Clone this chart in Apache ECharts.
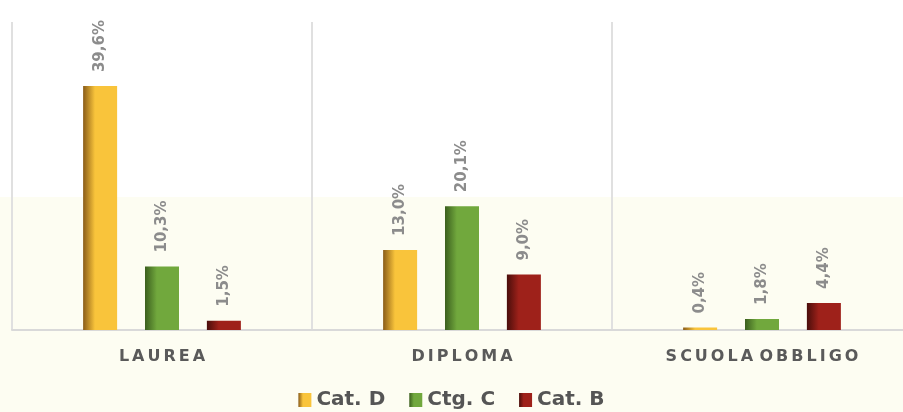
<!DOCTYPE html>
<html><head><meta charset="utf-8">
<script src="https://cdn.jsdelivr.net/npm/echarts@6/dist/echarts.min.js"></script>
<style>html,body{margin:0;padding:0;background:#fff}#c{width:903px;height:412px}</style>
</head><body><div id="c"></div>
<script>
var categories = ['LAUREA', 'DIPLOMA', 'SCUOLA OBBLIGO'];
var catD = [39.6, 13.0, 0.4];
var ctgC = [10.3, 20.1, 1.8];
var catB = [1.5, 9.0, 4.4];
var seriesNames = ['Cat. D', 'Ctg. C', 'Cat. B'];

function grad(dark, light) {
  return new echarts.graphic.LinearGradient(0, 0, 1, 0, [
    {offset: 0, color: dark},
    {offset: 0.35, color: light},
    {offset: 1, color: light}
  ]);
}
var colors = [grad('#8a5c18', '#f9c43b'), grad('#3b5f1e', '#71a83d'), grad('#4a0e0b', '#9e211a')];

function fmt(v) { return v.toFixed(1).replace('.', ',') + '%'; }

function mk(name, data, i) {
  return {
    name: name, type: 'bar', data: data, barWidth: 34, barGap: '82%',
    itemStyle: {color: colors[i]},
    label: {
      show: true, position: 'top', rotate: 90, align: 'left', verticalAlign: 'middle',
      distance: 14, color: '#8c8c8c', fontSize: 15, fontWeight: 'bold',
      fontFamily: 'DejaVu Sans', formatter: function (p) { return fmt(p.value); }
    }
  };
}

var chart = echarts.init(document.getElementById('c'), null, {renderer: 'canvas'});
chart.setOption({
  backgroundColor: '#ffffff',
  animation: false,
  graphic: [{type: 'rect', z: -10, shape: {x: 0, y: 197, width: 903, height: 215}, style: {fill: '#fdfdf2'}}],
  grid: {left: 12, width: 900, top: 22, bottom: 82, outerBoundsMode: 'none', containLabel: false},
  legend: {
    bottom: -3, left: 'center', icon: 'rect', itemWidth: 13, itemHeight: 14, itemGap: 24,
    data: seriesNames,
    textStyle: {color: '#555555', fontSize: 20, fontWeight: 'bold', fontFamily: 'DejaVu Sans'}
  },
  xAxis: {
    type: 'category', data: categories,
    axisLine: {lineStyle: {color: '#d9d9d9', width: 2}},
    axisTick: {show: false},
    splitLine: {show: true, interval: 0, lineStyle: {color: '#e0e0e0', width: 2}},
    axisLabel: {
      interval: 0, hideOverlap: false,
      color: '#5a5a5a', fontSize: 16, fontWeight: 'bold', fontFamily: 'DejaVu Sans', margin: 19,
      formatter: function (v) {
        return v.split('').map(function (ch) { return ch === ' ' ? '{w| }' : '{s|' + ch + '}'; }).join('');
      },
      rich: {
        s: {color: '#5a5a5a', fontSize: 16, fontWeight: 'bold', fontFamily: 'DejaVu Sans', padding: [0, 1.5]},
        w: {fontSize: 10, fontFamily: 'DejaVu Sans'}
      }
    }
  },
  yAxis: {type: 'value', min: 0, max: 50, show: false, splitLine: {show: false}},
  series: [mk(seriesNames[0], catD, 0), mk(seriesNames[1], ctgC, 1), mk(seriesNames[2], catB, 2)]
});
</script></body></html>
